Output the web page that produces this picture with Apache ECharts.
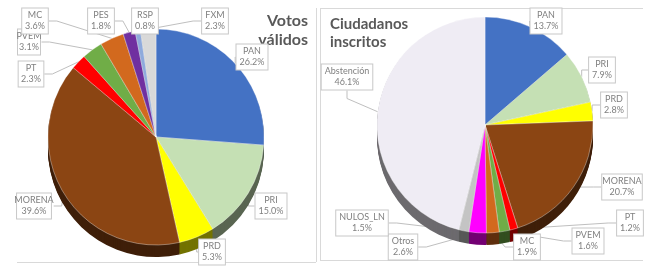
<!DOCTYPE html>
<html>
<head>
<meta charset="utf-8">
<script src="https://cdn.jsdelivr.net/npm/echarts@6/dist/echarts.min.js"></script>
<style>
  html, body { margin: 0; padding: 0; background: #fff; }
  #main { width: 654px; height: 275px; }
</style>
</head>
<body>
<div id="main"></div>
<script>
// votos validos (porcentaje)
var leftNames = ['PAN', 'PRI', 'PRD', 'MORENA', 'PT', 'PVEM', 'MC', 'PES', 'RSP', 'FXM'];
var leftValues = [26.2, 15.0, 5.3, 39.6, 2.3, 3.1, 3.6, 1.8, 0.8, 2.3];
// ciudadanos inscritos (porcentaje)
var rightNames = ['PAN', 'PRI', 'PRD', 'MORENA', 'PT', 'PVEM', 'MC', 'Otros', 'NULOS_LN', 'Abstención'];
var rightValues = [13.7, 7.9, 2.8, 20.7, 1.2, 1.6, 1.9, 2.6, 1.5, 46.1];

var colores = {
    'PAN': '#4472C4', 'PRI': '#C5E0B4', 'PRD': '#FFFF00', 'MORENA': '#8B4513',
    'PT': '#FF0000', 'PVEM': '#70AD47', 'MC': '#D2691E', 'PES': '#7030A0',
    'RSP': '#8FAADC', 'FXM': '#D9D9D9', 'Otros': '#FF00FF', 'NULOS_LN': '#C4C4C4',
    'Abstención': '#EFECF4'
};

// centros de las cajas de etiqueta
var leftLabelPos = [[252, 57], [271, 206], [212, 252], [34, 206], [31, 74],
    [29, 42], [35, 21], [101, 21], [145, 21], [215, 21]];
var rightLabelPos = [[546, 21], [602, 70], [614, 105], [622, 187], [630, 223],
    [588, 241], [527, 247], [403, 247], [362, 223], [347, 77]];

function oscurecer(hex, f) {
    var n = parseInt(hex.slice(1), 16);
    var r = Math.round(((n >> 16) & 255) * f);
    var g = Math.round(((n >> 8) & 255) * f);
    var b = Math.round((n & 255) * f);
    return 'rgb(' + r + ',' + g + ',' + b + ')';
}

function buildData(names, values, dark) {
    return names.map(function (n, i) {
        return {
            name: n,
            value: values[i],
            itemStyle: { color: dark ? oscurecer(colores[n], 0.45) : colores[n] }
        };
    });
}

var R = 108;
var series = [];

function addPie(names, values, cx, cy, labelPos) {
    // lateral (efecto 3D)
    for (var dy = 12; dy >= 1; dy -= 1) {
        series.push({
            type: 'pie',
            silent: true,
            center: [cx, cy + dy],
            radius: R,
            startAngle: 90,
            label: { show: false },
            labelLine: { show: false },
            data: buildData(names, values, true),
            animation: false
        });
    }
    series.push({
        type: 'pie',
        center: [cx, cy],
        radius: R,
        startAngle: 90,
        animation: false,
        itemStyle: { borderColor: 'rgba(255,255,255,0.6)', borderWidth: 0.6 },
        label: {
            show: true,
            position: 'outside',
            overflow: 'none',
            formatter: function (p) { return p.name + '\n' + p.value.toFixed(1) + '%'; },
            color: '#808080',
            fontSize: 9,
            lineHeight: 11,
            fontFamily: 'Lato',
            backgroundColor: '#fff',
            borderColor: '#C8C8C8',
            borderWidth: 1,
            padding: [2, 3, 1, 3],
            align: 'center'
        },
        labelLine: { show: true, length: 8, length2: 8, lineStyle: { color: '#BFBFBF', width: 1 } },
        labelLayout: function (params) {
            var p = labelPos[params.dataIndex];
            return { x: p[0], y: p[1], align: 'center', verticalAlign: 'middle' };
        },
        data: buildData(names, values, false)
    });
}

addPie(leftNames, leftValues, 156, 137, leftLabelPos);
addPie(rightNames, rightValues, 485, 125, rightLabelPos);

var chart = echarts.init(document.getElementById('main'));
chart.setOption({
    backgroundColor: '#fff',
    animation: false,
    graphic: [
        { type: 'line', shape: { x1: 17, y1: 262.5, x2: 316, y2: 262.5 }, style: { stroke: '#D9D9D9', lineWidth: 1 } },
        { type: 'line', shape: { x1: 316.5, y1: 8, x2: 316.5, y2: 262 }, style: { stroke: '#D9D9D9', lineWidth: 1 } },
        { type: 'line', shape: { x1: 320.5, y1: 8, x2: 320.5, y2: 260 }, style: { stroke: '#D9D9D9', lineWidth: 1 } },
        { type: 'line', shape: { x1: 320, y1: 8.5, x2: 643, y2: 8.5 }, style: { stroke: '#D9D9D9', lineWidth: 1 } },
        { type: 'line', shape: { x1: 320, y1: 260.5, x2: 643, y2: 260.5 }, style: { stroke: '#D9D9D9', lineWidth: 1 } },
        {
            type: 'text', right: 654 - 308, top: 11,
            style: { text: 'Votos\nválidos', fill: '#595959', font: 'bold 16px Lato', textAlign: 'right', lineHeight: 19 }
        },
        {
            type: 'text', left: 330, top: 15,
            style: { text: 'Ciudadanos\ninscritos', fill: '#595959', font: 'bold 15px Lato', lineHeight: 18 }
        }
    ],
    series: series
});
</script>
</body>
</html>
